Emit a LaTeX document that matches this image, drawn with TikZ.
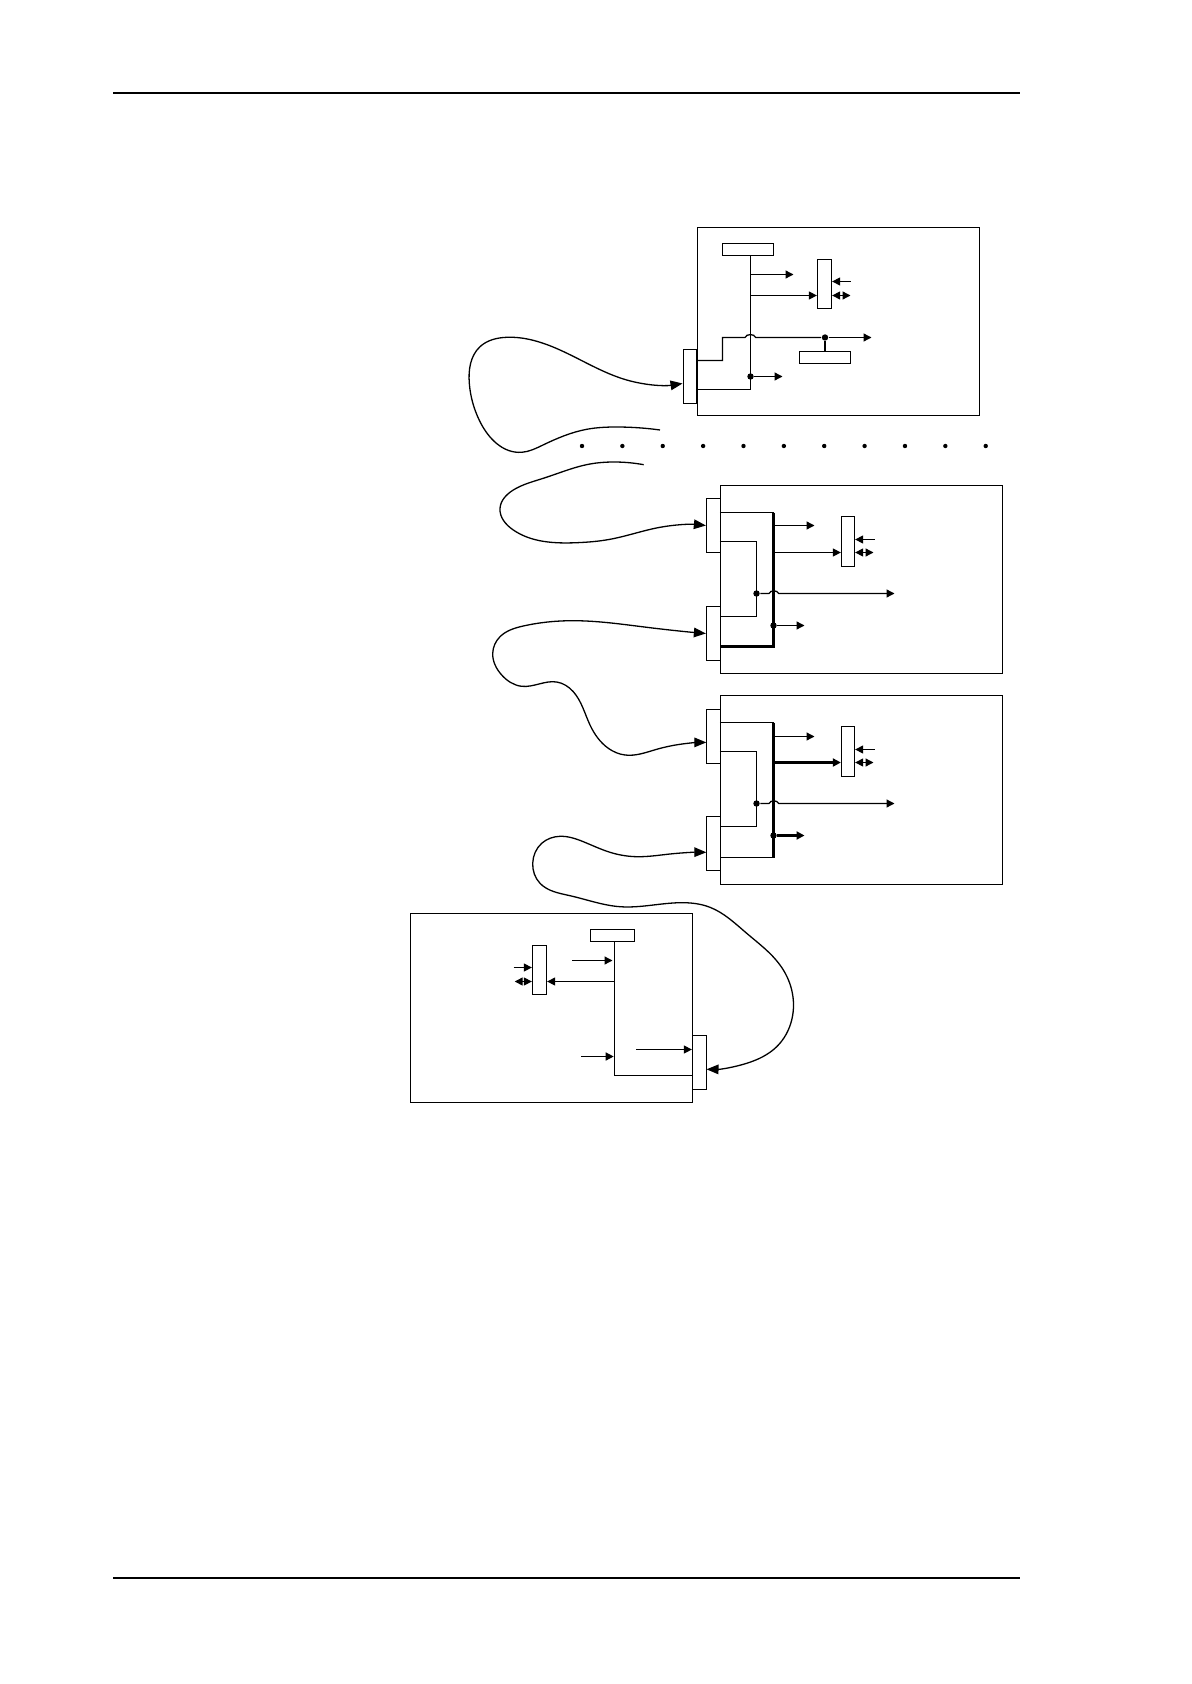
\documentclass[tikz,border=0pt]{standalone}
\usetikzlibrary{arrows.meta, hobby}
\begin{document}
\begin{tikzpicture}[x=.5pt, y=-.5pt, line width=.65pt,
    >={Triangle[length=4pt, width=4pt]},
    frame/.style={draw, inner sep=0, minimum width=141pt, minimum height=94pt},
    conn/.style={draw, inner sep=0, minimum width=7pt, minimum height=27pt},
    port/.style={draw, inner sep=0, minimum width=7pt, minimum height=24.5pt},
    bar/.style={draw, inner sep=0, minimum width=25.5pt, minimum height=6pt},
    dot/.style={circle, fill, inner sep=0, minimum size=3.2pt},
    fat/.style={line width=1.3pt},
    cable/.style={use Hobby shortcut, >={Triangle[length=6pt, width=4.8pt]}}]
\useasboundingbox (0, 0) rectangle (1191, 1684);
\draw [line width=1pt] (113.3, 93) -- (1020.3, 93);
\draw [line width=1pt] (113.3, 1578) -- (1020.3, 1578);
% first card
\node [frame] (frameA) at (838.5, 321.5) {};
\node [bar] (barA) at (748, 249.5) {};
\node [port] (portA) at (824.5, 284) {};
\node [bar] (barAb) at (825, 357.5) {};
\node [conn, minimum width=6.5pt] (connA) at (690, 376.5) {};
\node [dot] (jA) at (750.5, 376.5) {};
\node [dot] (kA) at (825, 337.5) {};
\coordinate (botA) at (750.5, 389.5);
\coordinate (tapA) at (750.5, 274.5);
\coordinate (outA) at (793.5, 274.5);
\coordinate (feedA) at (750.5, 295.5);
\coordinate (inA) at (850.5, 281.5);
\coordinate (ioA) at (850.5, 295.5);
\coordinate (lineA) at (722.5, 360.5);
\coordinate (offA) at (871.5, 337.5);
\coordinate (stubA) at (782.5, 376.5);
\draw (barA.south -| botA) -- (botA) -- (botA -| connA.east);
\draw [->] (tapA) -- (outA);
\draw [->] (feedA) -- (feedA -| portA.west);
\draw [->] (inA) -- (inA -| portA.east);
\draw [<->] (ioA -| portA.east) -- (ioA);
\draw (lineA -| connA.east) -- (lineA) -- (722.5, 337.5) -- (745, 337.5) to [bend left=70] (755.7, 337.5) -- (kA);
\draw [->] (kA) -- (offA);
\draw (kA) -- (barAb.north);
\draw [->] (jA) -- (stubA);
% second card
\node [frame] (frameB) at (861.5, 579.5) {};
\node [conn] (connB) at (713.5, 525.5) {};
\node [conn] (connBb) at (713.5, 633.5) {};
\node [port, minimum width=6.5pt, minimum height=25pt] (portB) at (848, 541.5) {};
\node [dot] (jB) at (773.5, 625.5) {};
\node [dot] (kB) at (756.5, 593.5) {};
\coordinate (topB) at (773.5, 512.5);
\coordinate (botB) at (773.5, 646.5);
\coordinate (tapB) at (773.5, 525.5);
\coordinate (outB) at (814.5, 525.5);
\coordinate (feedB) at (773.5, 552.5);
\coordinate (inB) at (874.5, 539.5);
\coordinate (ioB) at (873.5, 552.5);
\coordinate (upB) at (756.5, 541.5);
\coordinate (downB) at (756.5, 616.5);
\coordinate (offB) at (894.5, 593.5);
\coordinate (stubB) at (804.5, 625.5);
\draw (topB -| frameB.west) -- (topB);
\draw [fat] (topB) -- (botB) -- (botB -| frameB.west);
\draw [->] (tapB) -- (outB);
\draw [->] (feedB) -- (feedB -| portB.west);
\draw [->] (inB) -- (inB -| portB.east);
\draw [<->] (ioB -| portB.east) -- (ioB);
\draw (upB -| frameB.west) -- (upB) -- (downB) -- (downB -| frameB.west);
\draw [->] (kB) -- (769, 593.5) to [bend left=70] (778.7, 593.5) -- (offB);
\draw [->] (jB) -- (stubB);
% third card
\node [frame, minimum height=94.5pt] (frameC) at (861.5, 790) {};
\node [conn] (connC) at (713.5, 736.5) {};
\node [conn] (connCb) at (713.5, 843.5) {};
\node [port, minimum width=6.5pt, minimum height=25pt] (portC) at (848, 751.5) {};
\node [dot] (jC) at (773.5, 835.5) {};
\node [dot] (kC) at (756.5, 803.5) {};
\coordinate (topC) at (773.5, 722.5);
\coordinate (botC) at (773.5, 857.5);
\coordinate (tapC) at (773.5, 736.5);
\coordinate (outC) at (814.5, 736.5);
\coordinate (feedC) at (773.5, 762.5);
\coordinate (inC) at (874.5, 749.5);
\coordinate (ioC) at (873.5, 762.5);
\coordinate (upC) at (756.5, 751.5);
\coordinate (downC) at (756.5, 826.5);
\coordinate (offC) at (894.5, 803.5);
\coordinate (stubC) at (804.5, 835.5);
\draw (topC -| frameC.west) -- (topC);
\draw [fat] (topC) -- (botC);
\draw (botC) -- (botC -| frameC.west);
\draw [->] (tapC) -- (outC);
\draw [->, fat] (feedC) -- (feedC -| portC.west);
\draw [->] (inC) -- (inC -| portC.east);
\draw [<->] (ioC -| portC.east) -- (ioC);
\draw (upC -| frameC.west) -- (upC) -- (downC) -- (downC -| frameC.west);
\draw [->] (kC) -- (769, 803.5) to [bend left=70] (778.7, 803.5) -- (offC);
\draw [->, fat] (jC) -- (stubC);
% last card
\node [frame, minimum height=94.5pt] (frameD) at (551.5, 1008) {};
\node [bar, minimum width=22pt] (barD) at (612.5, 935.5) {};
\node [port] (portD) at (539.5, 970) {};
\node [conn] (connD) at (699.5, 1062.5) {};
\coordinate (botD) at (614.5, 1075.5);
\coordinate (feedD) at (614.5, 981.5);
\coordinate (inD) at (572, 960.5);
\coordinate (tapD) at (612.5, 960.5);
\coordinate (inDb) at (581, 1056.5);
\coordinate (tapDb) at (613.7, 1056.5);
\coordinate (inDc) at (636, 1049.5);
\coordinate (inDd) at (513.7, 967.5);
\coordinate (ioD) at (514.7, 981.5);
\draw (barD.south -| botD) -- (botD) -- (botD -| connD.west);
\draw [->] (feedD) -- (feedD -| portD.east);
\draw [->] (inD) -- (tapD);
\draw [->] (inDb) -- (tapDb);
\draw [->] (inDc) -- (inDc -| connD.west);
\draw [->] (inDd) -- (inDd -| portD.west);
\draw [<->] (ioD) -- (ioD -| portD.west);
% break in the chain
\foreach \i in {0, ..., 10}
  \fill (582+40.37*\i, 446) circle (1.1pt);
% cables
\coordinate (cutA) at (660, 430);
\coordinate (cutB) at (643.7, 464.7);
\coordinate (pinA) at (682.5, 383.5);
\coordinate (pinC) at (706.3, 742.4);
\coordinate (pinCb) at (706.3, 852.3);
\coordinate (pinD) at (706.5, 1069.3);
\draw [cable, ->] (cutA) .. (616.7, 427) .. (586.7, 429.3) .. (543, 445) .. (521.7, 452.3)
  .. (480, 421.7) .. (469.3, 383.3) .. (480, 346.7) .. (506.7, 337.3) .. (560, 350) .. (626.7, 380) .. (pinA);
\draw [cable, ->] (cutB) .. (613.3, 462) .. (590, 464) .. (543.3, 478.3) .. (513.3, 490)
  .. (500, 508.3) .. (513.3, 530) .. (576.7, 542.7) .. (610, 539.3) .. (660, 527.3) .. (connB.west);
\draw [cable, <->] (connBb.west) .. (646.7, 627.3) .. (573.3, 620.7) .. (523.3, 626)
  .. (500, 636.7) .. (492.7, 653.3) .. (501.7, 675) .. (521.7, 686.3) .. (556.7, 682) .. (573.3, 691.7) .. (590, 725)
  .. (608.3, 748.3) .. (625, 755) .. (656.7, 749.3) .. (680, 744.3) .. (pinC);
\draw [cable, <->] (pinCb) .. (670, 854) .. (636.7, 856.7) .. (610, 852.3) .. (583.3, 841.7)
  .. (560, 836.3) .. (541.7, 843.3) .. (532.7, 863.3) .. (540, 883.3) .. (570, 895.7) .. (620, 906.7) .. (680, 902.7)
  .. (710, 907.3) .. (746.7, 933.3) .. (780, 965) .. (791.7, 990) .. (791.7, 1020) .. (776.7, 1046.7) .. (746.7, 1063.3) .. (pinD);
\end{tikzpicture}
\end{document}
